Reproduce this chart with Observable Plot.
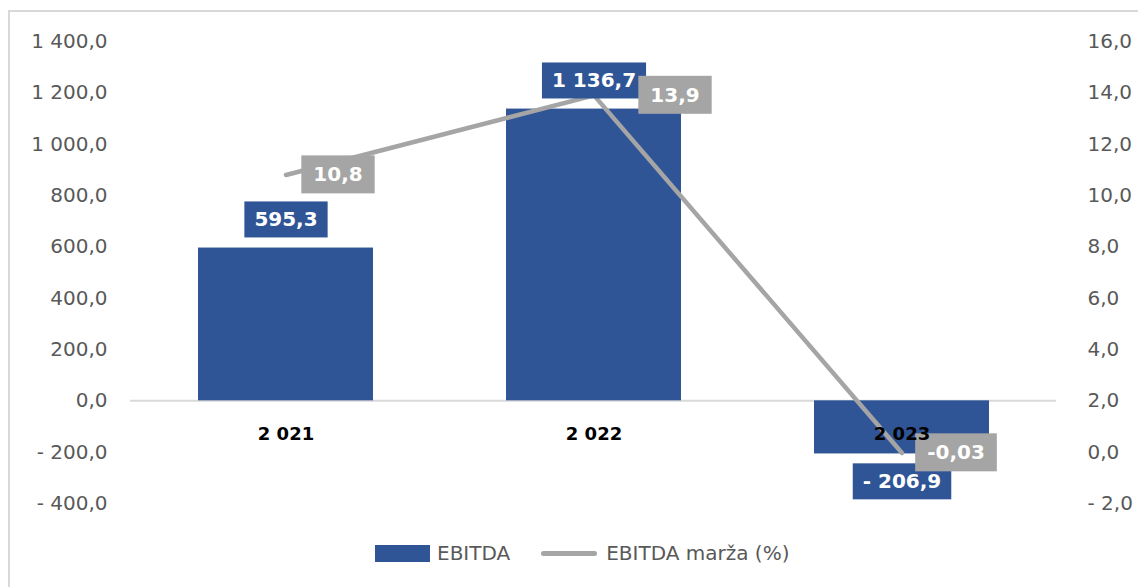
<!DOCTYPE html>
<html>
<head>
<meta charset="utf-8">
<script src="https://cdn.jsdelivr.net/npm/d3@7"></script>
<script src="https://cdn.jsdelivr.net/npm/@observablehq/plot@0.6"></script>
<style>
  body { margin: 0; background: #fff; font-family: "DejaVu Sans", sans-serif; }
  #wrap { position: relative; width: 1138px; height: 587px; overflow: hidden; background: #fff; }
  #frame { position: absolute; left: 8px; top: 10px; width: 1200px; height: 700px; border: 2px solid #d9d9d9; box-sizing: border-box; }
  #chart { position: absolute; left: 0; top: 0; }
  #legend { position: absolute; top: 541px; left: 375px; display: flex; align-items: center; font-size: 20px; color: #595959; white-space: nowrap; font-family: "DejaVu Sans", sans-serif; }
  .sw-bar { width: 55px; height: 17px; background: #2F5597; margin-right: 7px; }
  .sw-line { width: 56px; height: 5px; border-radius: 3px; background: #A5A5A5; margin-left: 31px; margin-right: 9px; }
</style>
</head>
<body>
<div id="wrap">
  <div id="frame"></div>
  <div id="chart"></div>
  <div id="legend">
    <div class="sw-bar"></div><span>EBITDA</span>
    <div class="sw-line"></div><span>EBITDA marža (%)</span>
  </div>
</div>
<script>
// ---- data ----
const years = ["2 021", "2 022", "2 023"];
const ebitda = [595.3, 1136.7, -206.9];
const ebitdaMargin = [10.8, 13.9, -0.03];
const leftTicks = [-400, -200, 0, 200, 400, 600, 800, 1000, 1200, 1400];
const rightTicks = [-2, 0, 2, 4, 6, 8, 10, 12, 14, 16];

// ---- helpers ----
const BLUE = "#2F5597", GRAY = "#A5A5A5";
const BAR_TXT = "#fffffe", MARGIN_TXT = "#fffffd"; // near-white, used to find label texts
function fmtNum(v, dec) {
  const s = Math.abs(v).toFixed(dec);
  let [i, f] = s.split(".");
  i = i.replace(/\B(?=(\d{3})+(?!\d))/g, " ");
  return (v < 0 ? "- " : "") + i + (f ? "," + f : "");
}
// right axis (%) mapped onto left scale: -2..16 -> -400..1400
const toLeft = (r) => r * 100 - 200;
const toRight = (l) => (l + 200) / 100;

const data = years.map((y, i) => ({ year: y, ebitda: ebitda[i], margin: ebitdaMargin[i] }));
const marginLabelDx = [52, 81, 54];

const marginLabelMarks = data.map((d, i) =>
  Plot.text([d], {
    x: "year", y: (e) => toLeft(e.margin),
    text: (e) => String(e.margin).replace(".", ","),
    dx: marginLabelDx[i], dy: 0,
    fill: MARGIN_TXT, fontWeight: "bold", fontSize: 20
  })
);

const chart = Plot.plot({
  width: 1138,
  height: 530,
  marginTop: 41,
  marginBottom: 27,
  marginLeft: 130,
  marginRight: 82,
  style: { fontFamily: "DejaVu Sans, sans-serif", color: "#595959", background: "transparent" },
  x: { domain: years, paddingInner: 0.433, paddingOuter: 0.2165, axis: null },
  y: { domain: [-400, 1400], axis: null },
  marks: [
    Plot.ruleY([0], { stroke: "#d9d9d9", strokeWidth: 2 }),
    Plot.barY(data, { x: "year", y: "ebitda", fill: BLUE }),
    Plot.line(data, { x: "year", y: (d) => toLeft(d.margin), stroke: GRAY, strokeWidth: 4.5, strokeLinecap: "round", strokeLinejoin: "round" }),
    Plot.text(data.filter(d => d.ebitda >= 0), { x: "year", y: "ebitda", text: (d) => fmtNum(d.ebitda, 1), dy: -28, fill: BAR_TXT, fontWeight: "bold", fontSize: 20 }),
    Plot.text(data.filter(d => d.ebitda < 0), { x: "year", y: "ebitda", text: (d) => fmtNum(d.ebitda, 1), dy: 28, fill: BAR_TXT, fontWeight: "bold", fontSize: 20 }),
    ...marginLabelMarks,
    Plot.text(data, { x: "year", y: () => 0, text: "year", dy: 33, fill: "black", fontWeight: "bold", fontSize: 18 }),
    Plot.axisY(leftTicks, { anchor: "left", tickSize: 0, tickPadding: 23, tickFormat: (d) => fmtNum(d, 1), fontSize: 20, label: null }),
    Plot.axisY(rightTicks.map(toLeft), { anchor: "right", tickSize: 0, tickPadding: 31, tickFormat: (d) => fmtNum(toRight(d), 1), fontSize: 20, label: null })
  ]
});

document.getElementById("chart").append(chart);

function boxLabels(svg, fillKey, color, padX, padY) {
  svg.querySelectorAll("text").forEach((t) => {
    const g = t.closest("g");
    const f = (t.getAttribute("fill") || (g && g.getAttribute("fill")) || "").toLowerCase();
    if (f !== fillKey) return;
    const b = t.getBBox();
    const r = document.createElementNS("http://www.w3.org/2000/svg", "rect");
    r.setAttribute("x", b.x - padX);
    r.setAttribute("y", b.y - padY);
    r.setAttribute("width", b.width + 2 * padX);
    r.setAttribute("height", b.height + 2 * padY);
    r.setAttribute("fill", color);
    r.setAttribute("stroke", "none");
    const tr = t.getAttribute("transform");
    if (tr) r.setAttribute("transform", tr);
    t.parentNode.insertBefore(r, t);
  });
}
const svg = chart.tagName.toLowerCase() === "svg" ? chart : chart.querySelector("svg");
boxLabels(svg, BAR_TXT, BLUE, 10, 6);
boxLabels(svg, MARGIN_TXT, GRAY, 12, 7);
</script>
</body>
</html>
